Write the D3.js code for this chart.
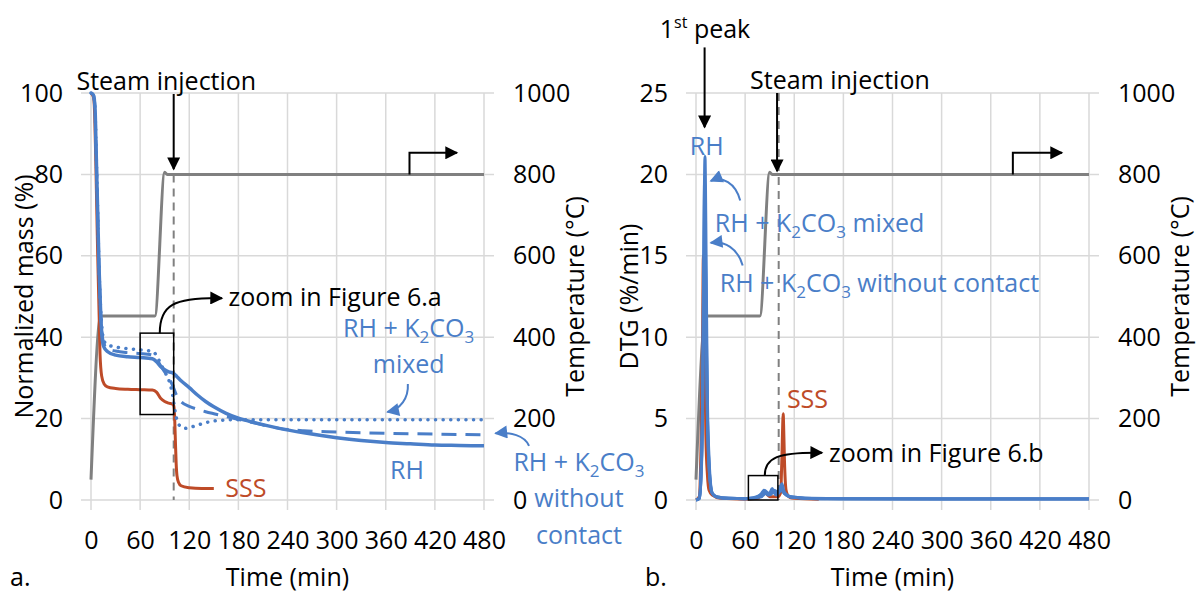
<!DOCTYPE html>
<html>
<head>
<meta charset="utf-8">
<script src="https://cdn.jsdelivr.net/npm/d3@7"></script>
<style>
body { margin: 0; background: #fff; }
svg text { font-family: "Open Sans", sans-serif; font-size: 25px; fill: #000; }
svg text.blue { fill: #4a7ec8; }
svg text.red { fill: #be4b28; }
</style>
</head>
<body>
<script>
var svgWidth = 1198, svgHeight = 594;
var W = 393, H = 407;
var blue = "#4a7ec8", red = "#be4b28", grey = "#808080", gridCol = "#d9d9d9";

// ---- data ----
var timeTicks = [0, 60, 120, 180, 240, 300, 360, 420, 480];
var massTicks = [0, 20, 40, 60, 80, 100];
var dtgTicks = [0, 5, 10, 15, 20, 25];
var tempTicks = [0, 200, 400, 600, 800, 1000];
var steamTime = 101;

var tempTime = [0, 12, 78, 90, 93, 480];
var tempVal = [50, 452, 452, 805, 800, 800];

// panel a: normalized mass (%)
var rhTime = [0, 3, 5, 6, 8, 10, 12, 14, 16, 20, 30, 45, 60, 75, 80, 85, 90, 95, 100, 105, 110, 120, 130, 140, 150, 165, 180, 200, 230, 260, 300, 330, 360, 390, 420, 450, 480];
var rhMass = [100, 99.5, 96, 88, 72, 56, 45, 39, 37.5, 36.5, 35.6, 35.2, 35, 34.7, 34, 32.8, 32, 31.5, 31.2, 30.3, 29.3, 27.6, 25.8, 24.2, 22.9, 21.3, 20.1, 19.0, 17.6, 16.5, 15.3, 14.6, 14.1, 13.8, 13.5, 13.4, 13.3];
var sepTime = [0, 3, 5, 6, 8, 10, 12, 14, 16, 20, 30, 45, 60, 75, 80, 85, 90, 95, 100, 105, 110, 120, 130, 140, 150, 165, 180, 200, 230, 260, 300, 360, 420, 480];
var sepMass = [100, 99.5, 96, 88, 72, 56, 45, 40, 38.3, 37.2, 36.6, 36.2, 36, 35.6, 34.8, 33, 31.5, 30, 28, 25.5, 24.2, 23.0, 22.3, 21.7, 21.2, 20.5, 19.8, 18.9, 17.6, 17.0, 16.7, 16.4, 16.2, 16.0];
var mixTime = [0, 3, 5, 6, 8, 10, 12, 14, 16, 20, 30, 45, 60, 75, 80, 85, 90, 95, 100, 103, 106, 110, 115, 120, 130, 140, 150, 160, 170, 220, 300, 400, 480];
var mixMass = [100, 99.5, 96, 88, 72, 56, 46, 41, 39, 38.2, 37.6, 37.2, 36.9, 36.5, 35.5, 33.5, 31.5, 29.5, 25.5, 21.5, 19, 18, 17.6, 17.8, 18.4, 19, 19.4, 19.6, 19.7, 19.7, 19.7, 19.7, 19.7];
var sssTime = [0, 3, 4, 6, 8, 10, 11, 13, 16, 20, 30, 45, 60, 75, 80, 85, 90, 95, 100, 101, 102, 103, 104, 105, 107, 110, 120, 135, 150];
var sssMass = [100, 99, 97, 82, 62, 45, 36, 30.5, 28.5, 27.8, 27.4, 27.2, 27.1, 27, 26.5, 25, 24.2, 23.8, 23.5, 23.2, 21, 15, 9, 6, 4.3, 3.5, 3.0, 2.8, 2.8];

// panel b: DTG (%/min)
var rhDtgTime = [0, 4, 6, 8, 9, 10, 11, 12, 13, 14, 16, 18, 20, 25, 30, 40, 60, 70, 75, 80, 83, 86, 88, 90, 93, 95, 98, 100, 103, 105, 107, 110, 115, 120, 140, 180, 240, 300, 360, 420, 480];
var rhDtg = [0, 0.1, 1.5, 6, 12, 18, 21.1, 17, 11, 6, 2.5, 0.9, 0.4, 0.2, 0.12, 0.1, 0.08, 0.1, 0.2, 0.4, 0.6, 0.5, 0.3, 0.4, 0.7, 0.5, 0.3, 0.4, 0.8, 1.0, 0.6, 0.35, 0.2, 0.15, 0.1, 0.08, 0.08, 0.08, 0.08, 0.08, 0.08];
var mixDtgTime = [0, 4, 6, 8, 9, 10, 10.5, 11.5, 12.5, 14, 16, 18, 20, 25, 40, 60, 80, 85, 90, 95, 100, 104, 108, 115, 150, 480];
var mixDtg = [0, 0.1, 1.3, 6, 12, 17.5, 19.6, 16, 10, 5, 2, 0.8, 0.4, 0.2, 0.1, 0.08, 0.3, 0.5, 0.4, 0.6, 0.5, 0.7, 0.4, 0.2, 0.08, 0.06];
var sepDtgTime = [0, 4, 6, 8, 9, 10, 11, 12, 13, 14, 16, 18, 20, 25, 40, 60, 80, 85, 90, 95, 100, 104, 108, 115, 150, 480];
var sepDtg = [0, 0.1, 1.2, 5, 10, 14, 15.8, 13, 9, 5, 2, 0.8, 0.4, 0.2, 0.1, 0.08, 0.2, 0.4, 0.3, 0.5, 0.4, 0.6, 0.4, 0.2, 0.08, 0.06];
var sssDtgTime = [0, 4, 6, 8, 9, 10, 11, 12, 14, 16, 20, 30, 60, 75, 80, 85, 90, 100, 103, 104, 105, 106, 106.5, 107, 108, 109, 110, 112, 115, 120, 150];
var sssDtg = [0, 0.2, 3, 10, 15, 13, 8, 4, 1.5, 0.6, 0.3, 0.1, 0.05, 0.1, 0.3, 0.4, 0.2, 0.2, 0.4, 1, 2.8, 4.8, 5.3, 4.6, 2.5, 1.2, 0.6, 0.3, 0.15, 0.1, 0.05];

// ---- drawing ----
var svg = d3.select("body").append("svg").attr("width", svgWidth).attr("height", svgHeight);
var defs = svg.append("defs");
function marker(id, color) {
  defs.append("marker").attr("id", id).attr("viewBox", "0 0 10 10")
    .attr("refX", 9).attr("refY", 5).attr("markerWidth", 14).attr("markerHeight", 13)
    .attr("markerUnits", "userSpaceOnUse").attr("orient", "auto")
    .append("path").attr("d", "M0,0L10,5L0,10z").attr("fill", color);
}
marker("arrK", "#000");
marker("arrB", blue);

function panel(left, yMax, yTicks, yTitle, tag, tagX) {
  var g = svg.append("g").attr("transform", `translate(${left},93)`);
  var x = d3.scaleLinear().domain([0, 480]).range([0, W]);
  var y = d3.scaleLinear().domain([0, yMax]).range([H, 0]);
  var yT = d3.scaleLinear().domain([0, 1000]).range([H, 0]);
  g.selectAll(".vg").data(timeTicks).enter().append("line").attr("class", "vg")
    .attr("x1", d => x(d)).attr("x2", d => x(d)).attr("y1", 0).attr("y2", H + 10)
    .attr("stroke", gridCol).attr("stroke-width", 1.5);
  g.selectAll(".hg").data(yTicks).enter().append("line").attr("class", "hg")
    .attr("x1", -10).attr("x2", W + 10).attr("y1", d => y(d)).attr("y2", d => y(d))
    .attr("stroke", gridCol).attr("stroke-width", 1.5);
  g.append("g").attr("transform", `translate(0,${H})`)
    .call(d3.axisBottom(x).tickValues(timeTicks).tickSize(0).tickPadding(31))
    .call(a => a.select(".domain").remove());
  g.append("g").call(d3.axisLeft(y).tickValues(yTicks).tickSize(0).tickPadding(28))
    .call(a => a.select(".domain").remove());
  g.append("g").attr("transform", `translate(${W},0)`)
    .call(d3.axisRight(yT).tickValues(tempTicks).tickFormat(d3.format("d")).tickSize(0).tickPadding(29))
    .call(a => a.select(".domain").remove());
  g.append("text").attr("transform", `translate(-67,${H / 2}) rotate(-90)`)
    .attr("text-anchor", "middle").attr("dy", "0.35em").text(yTitle);
  g.append("text").attr("transform", `translate(484,${H / 2}) rotate(-90)`)
    .attr("text-anchor", "middle").attr("dy", "0.35em").text("Temperature (°C)");
  g.append("text").attr("x", W / 2).attr("y", H + 77).attr("dy", "0.35em")
    .attr("text-anchor", "middle").text("Time (min)");
  g.append("text").attr("x", tagX).attr("y", H + 77).attr("dy", "0.35em").text(tag);
  return {g: g, x: x, y: y, yT: yT};
}

function series(p, ys, times, vals, color, width, dash) {
  var line = d3.line().x(d => p.x(d[0])).y(d => ys(d[1])).curve(d3.curveMonotoneX);
  var path = p.g.append("path").datum(d3.zip(times, vals)).attr("d", line)
    .attr("fill", "none").attr("stroke", color).attr("stroke-width", width)
    .attr("stroke-linejoin", "round");
  if (dash) path.attr("stroke-dasharray", dash);
  if (dash === "0.1,7.5") path.attr("stroke-linecap", "round");
  return path;
}

function arrow(p, d, color, id) {
  p.g.append("path").attr("d", d).attr("fill", "none").attr("stroke", color)
    .attr("stroke-width", 2).attr("marker-end", `url(#${id})`);
}

function k2co3(t, suffix) {
  t.append("tspan").text("RH + K");
  t.append("tspan").attr("dy", 6).attr("font-size", "17px").text("2");
  t.append("tspan").attr("dy", -6).text("CO");
  t.append("tspan").attr("dy", 6).attr("font-size", "17px").text("3");
  if (suffix) t.append("tspan").attr("dy", -6).text(suffix);
}

function label(p, x, y, txt, cls, anchor) {
  return p.g.append("text").attr("x", x).attr("y", y).attr("class", cls || null)
    .attr("text-anchor", anchor || "start").text(txt);
}

// ===== panel a =====
var a = panel(91, 100, massTicks, "Normalized mass (%)", "a.", -81);
series(a, a.yT, tempTime, tempVal, grey, 3);
a.g.append("path").attr("d", `M${a.x(steamTime)},${a.y(80)}V${a.y(0)}`)
  .attr("stroke", grey).attr("stroke-width", 2).attr("stroke-dasharray", "8,6");
series(a, a.y, sssTime, sssMass, red, 3);
series(a, a.y, mixTime, mixMass, blue, 3.5, "0.1,7.5");
series(a, a.y, sepTime, sepMass, blue, 3, "15,9");
series(a, a.y, rhTime, rhMass, blue, 3.5);

a.g.append("rect").attr("x", a.x(60)).attr("y", a.y(41))
  .attr("width", a.x(101) - a.x(60)).attr("height", a.y(21) - a.y(41))
  .attr("fill", "none").attr("stroke", "#000").attr("stroke-width", 1.5);
arrow(a, `M${a.x(84)},${a.y(41)}C${a.x(84)},${a.y(47.8)} ${a.x(100)},${a.y(49.8)} ${a.x(160)},${a.y(49.6)}`, "#000", "arrK");
label(a, a.x(168), a.y(47.7), "zoom in Figure 6.a");

label(a, a.x(92), a.y(100) - 3, "Steam injection", null, "middle");
arrow(a, `M${a.x(steamTime)},${a.y(100) + 1}V${a.y(81.3)}`, "#000", "arrK");
arrow(a, `M${a.x(389)},${a.yT(800)}V${a.yT(853)}H${a.x(447)}`, "#000", "arrK");

k2co3(label(a, a.x(388), a.y(40), "", "blue", "middle"));
label(a, a.x(388), a.y(31.2), "mixed", "blue", "middle");
arrow(a, `M${a.x(387)},${a.y(28.5)}C${a.x(388)},${a.y(25)} ${a.x(378)},${a.y(22.3)} ${a.x(362)},${a.y(21.6)}`, blue, "arrB");
label(a, a.x(386), a.y(5.2), "RH", "blue", "middle");
k2co3(label(a, a.x(596), a.y(7.1), "", "blue", "middle"));
label(a, a.x(596), a.y(-1.7), "without", "blue", "middle");
label(a, a.x(596), a.y(-10.8), "contact", "blue", "middle");
arrow(a, `M${a.x(535)},${a.y(13.3)}C${a.x(530)},${a.y(15.8)} ${a.x(512)},${a.y(16.8)} ${a.x(494)},${a.y(16.4)}`, blue, "arrB");
label(a, a.x(164), a.y(0.7), "SSS", "red");

// ===== panel b =====
var b = panel(696, 25, dtgTicks, "DTG (%/min)", "b.", -51);
series(b, b.yT, tempTime, tempVal, grey, 3);
b.g.append("path").attr("d", `M${b.x(steamTime)},${b.y(25)}V${b.y(0)}`)
  .attr("stroke", grey).attr("stroke-width", 2).attr("stroke-dasharray", "8,6");
series(b, b.y, sssDtgTime, sssDtg, red, 3);
series(b, b.y, sepDtgTime, sepDtg, blue, 3);
series(b, b.y, mixDtgTime, mixDtg, blue, 3);
series(b, b.y, rhDtgTime, rhDtg, blue, 3);

b.g.append("rect").attr("x", b.x(64)).attr("y", b.y(1.5))
  .attr("width", b.x(100) - b.x(64)).attr("height", b.y(0) - b.y(1.5))
  .attr("fill", "none").attr("stroke", "#000").attr("stroke-width", 1.5);
arrow(b, `M${b.x(84)},${b.y(1.5)}C${b.x(84)},${b.y(2.6)} ${b.x(100)},${b.y(2.95)} ${b.x(154)},${b.y(2.9)}`, "#000", "arrK");
label(b, b.x(162.5), b.y(2.34), "zoom in Figure 6.b");

var pk = label(b, b.x(11), b.y(28.4), "1", null, "middle");
pk.append("tspan").attr("dy", -10).attr("font-size", "16px").text("st");
pk.append("tspan").attr("dy", 10).text(" peak");
arrow(b, `M${b.x(10.5)},${b.y(27.8)}V${b.y(22.9)}`, "#000", "arrK");
label(b, b.x(13), b.y(21.2), "RH", "blue", "middle");

label(b, b.x(66), b.y(25.25), "Steam injection");
arrow(b, `M${b.x(99)},${b.y(25)}V${b.y(20.2)}`, "#000", "arrK");
arrow(b, `M${b.x(387)},${b.yT(800)}V${b.yT(853)}H${b.x(447)}`, "#000", "arrK");

k2co3(label(b, b.x(23), b.y(16.45), "", "blue"), " mixed");
k2co3(label(b, b.x(29), b.y(12.75), "", "blue"), " without contact");
arrow(b, `M${b.x(54)},${b.y(18.4)}C${b.x(48)},${b.y(19.5)} ${b.x(32)},${b.y(19.9)} ${b.x(18)},${b.y(19.6)}`, blue, "arrB");
arrow(b, `M${b.x(57)},${b.y(14.4)}C${b.x(51)},${b.y(15.5)} ${b.x(35)},${b.y(15.9)} ${b.x(18)},${b.y(15.8)}`, blue, "arrB");
label(b, b.x(111), b.y(5.67), "SSS", "red");
</script>
</body>
</html>
